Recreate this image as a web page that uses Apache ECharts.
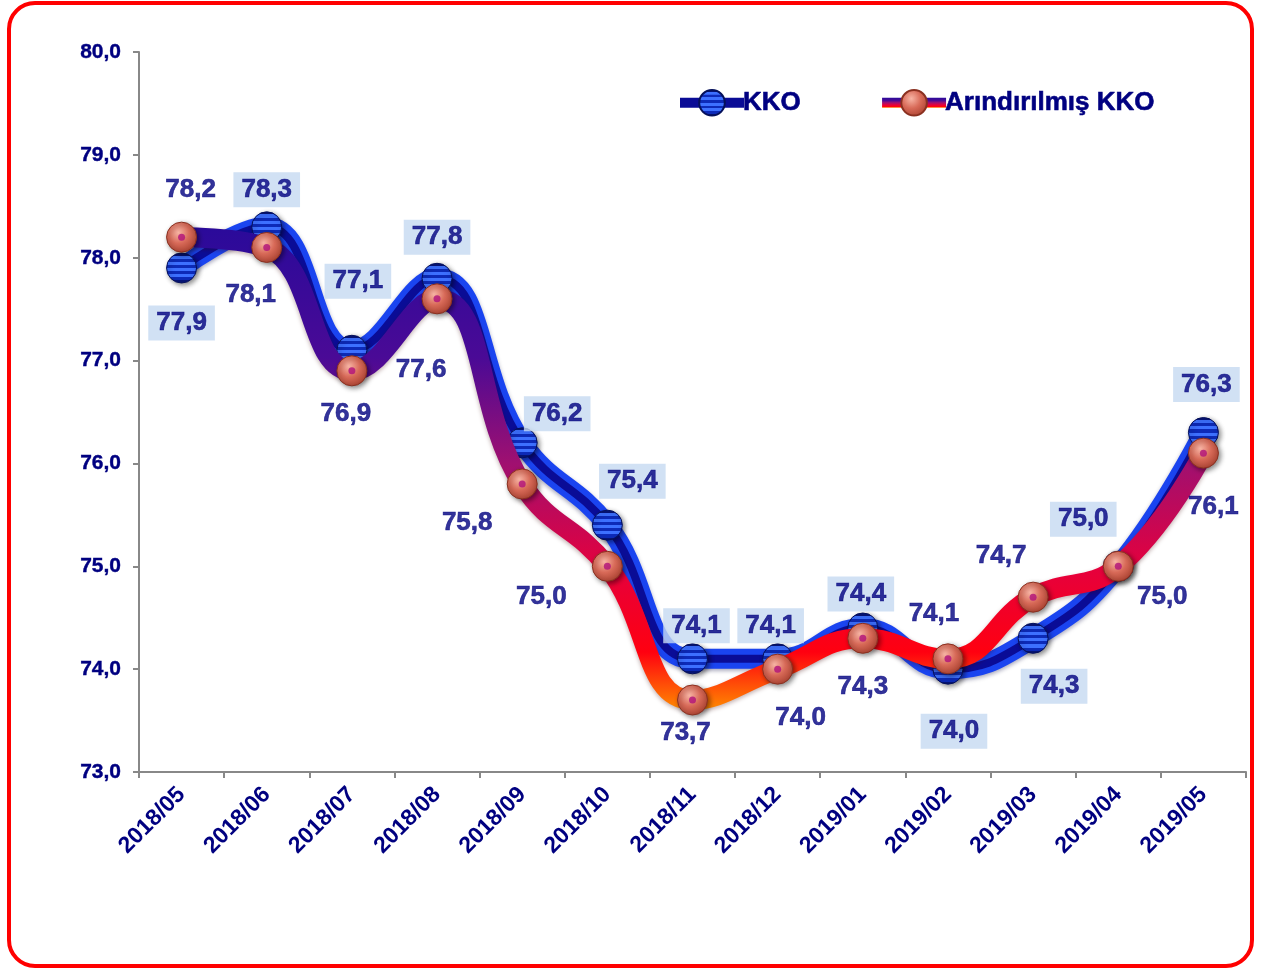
<!DOCTYPE html>
<html>
<head>
<meta charset="utf-8">
<script src="https://cdn.jsdelivr.net/npm/echarts@6/dist/echarts.min.js"></script>
<style>
html,body{margin:0;padding:0;background:#fff;}
#chart{width:1262px;height:969px;}
</style>
</head>
<body>
<div id="chart"></div>
<script>
var categories = ['2018/05','2018/06','2018/07','2018/08','2018/09','2018/10','2018/11','2018/12','2019/01','2019/02','2019/03','2019/04','2019/05'];
var kko = [77.9, 78.3, 77.1, 77.8, 76.2, 75.4, 74.1, 74.1, 74.4, 74.0, 74.3, 75.0, 76.3];
var arindirilmis = [78.2, 78.1, 76.9, 77.6, 75.8, 75.0, 73.7, 74.0, 74.3, 74.1, 74.7, 75.0, 76.1];
var seriesNames = ['KKO', 'Arındırılmış KKO'];

// label offsets (pixels) for each point
var kkoLabelOffsets = [[0,55],[0,-37],[6,-69],[0,-41],[35,-29],[25,-44],[4,-33],[-7,-33],[-2,-34],[6,62],[21,48],[-35,-47],[3,-48]];
var ariLabelOffsets = [[9,-47],[-16,47],[-6,43],[-16,71],[-55,39],[-66,31],[-7,33],[23,49],[0,49],[-14,-45],[-32,-41],[44,31],[10,54]];

function fmt(v){ return v.toFixed(1).replace('.', ','); }

var navy = '#000080';
var FONT = 'Liberation Sans, Arial, sans-serif';

var stripeStops = [];
(function(){
  var n = 10;
  for (var i = 0; i < n; i++) {
    var c = (i % 2 === 0) ? '#0d2ab8' : '#3d70ff';
    if (i === 0 || i === n-1) c = '#061478';
    stripeStops.push({offset: i/n, color: c});
    stripeStops.push({offset: (i+1)/n - 0.001, color: c});
  }
})();

var kkoSymbolColor = new echarts.graphic.LinearGradient(0,0,0,1, stripeStops);
var ariSymbolColor = new echarts.graphic.RadialGradient(0.4,0.35,0.7,[
  {offset:0, color:'#f7b4a4'},
  {offset:0.5, color:'#d86a58'},
  {offset:1, color:'#a8402f'}
]);

var ariLineColor = new echarts.graphic.LinearGradient(0,0,0,1,[
  {offset:0, color:'#2a0a9a'},
  {offset:0.27, color:'#4a0a96'},
  {offset:0.49, color:'#a01070'},
  {offset:0.71, color:'#e6003c'},
  {offset:0.88, color:'#ff0010'},
  {offset:1, color:'#ff8a00'}
]);

function mkLabels(values, offsets, bg) {
  return values.map(function(v, i){
    return {
      value: v,
      label: {
        show: true,
        position: 'inside',
        offset: offsets[i],
        formatter: fmt(v),
        color: navy,
        fontSize: 26,
        lineHeight: 27,
        fontWeight: 'bold',
        fontFamily: FONT,
        textBorderColor: navy,
        textBorderWidth: 0.6,
        backgroundColor: bg,
        padding: bg ? [4,8,4,8] : 0
      }
    };
  });
}

var chart = echarts.init(document.getElementById('chart'), null, {renderer:'canvas'});
var option = {
  backgroundColor: '#ffffff',
  animation: false,
  graphic: [{
    type: 'rect',
    shape: {x: 9, y: 3, width: 1243, height: 963, r: 26},
    style: {fill: 'none', stroke: '#ff0000', lineWidth: 4},
    z: 100
  }],
  grid: {left: 139, right: 16, top: 52, bottom: 197, containLabel: false},
  legend: {
    top: 84,
    left: 670,
    itemGap: 76,
    itemWidth: 64,
    itemHeight: 32,
    data: [seriesNames[0], seriesNames[1]],
    lineStyle: {width: 10},
    textStyle: {color: navy, fontSize: 26, fontWeight: 'bold', fontFamily: FONT, padding:[0,0,0,-6], textBorderColor: navy, textBorderWidth: 0.6}
  },
  xAxis: {
    type: 'category',
    data: categories,
    boundaryGap: true,
    axisLine: {lineStyle: {color: '#888888', width: 2}},
    axisTick: {show: true, length: 6, lineStyle: {color: '#888888', width: 2}},
    axisLabel: {
      rotate: 45, interval: 0, margin: 19,
      color: navy, fontSize: 23, fontWeight: 'bold',
      fontFamily: FONT
    }
  },
  yAxis: {
    type: 'value',
    min: 73, max: 80, interval: 1,
    axisLine: {show: true, lineStyle: {color: '#888888', width: 2}},
    axisTick: {show: true, length: 6, lineStyle: {color: '#888888', width: 2}},
    splitLine: {show: false},
    axisLabel: {
      margin: 18,
      color: navy, fontSize: 21, fontWeight: 'bold',
      fontFamily: FONT,
      textBorderColor: navy, textBorderWidth: 0.4,
      formatter: function(v){ return fmt(v); }
    }
  },
  series: [
    {
      name: 'kko_base',
      type: 'line',
      data: kko,
      smooth: 0.45,
      z: 2,
      lineStyle: {width: 20, color: '#1a44f0', shadowColor:'rgba(0,0,60,0.35)', shadowBlur:4, shadowOffsetY:2},
      symbol: 'none',
      silent: true
    },
    {
      name: seriesNames[0],
      type: 'line',
      data: kko,
      smooth: 0.45,
      z: 3,
      lineStyle: {width: 8, color: '#0a0c96'},
      symbol: 'circle',
      symbolSize: 30,
      itemStyle: {color: kkoSymbolColor, borderColor: '#05105a', borderWidth: 1, shadowColor: 'rgba(0,0,0,0.45)', shadowBlur: 5, shadowOffsetX: 2, shadowOffsetY: 2},
      silent: true
    },
    {
      name: seriesNames[1],
      type: 'line',
      data: arindirilmis,
      smooth: 0.45,
      z: 4,
      lineStyle: {width: 20, color: ariLineColor, shadowColor:'rgba(60,0,0,0.3)', shadowBlur:4, shadowOffsetY:2},
      symbol: 'circle',
      symbolSize: 30,
      itemStyle: {color: ariSymbolColor, borderColor: '#8a3020', borderWidth: 1, shadowColor: 'rgba(0,0,0,0.45)', shadowBlur: 5, shadowOffsetX: 2, shadowOffsetY: 2},
      silent: true
    },
    {
      name: 'ari_dot',
      type: 'scatter',
      data: arindirilmis,
      z: 6,
      symbol: 'circle',
      symbolSize: 7,
      itemStyle: {color: '#b0107a'},
      silent: true
    },
    {
      name: 'kko_labels',
      type: 'scatter',
      data: mkLabels(kko, kkoLabelOffsets, '#c6d9f1'),
      z: 7,
      symbolSize: 0,
      silent: true
    },
    {
      name: 'ari_labels',
      type: 'scatter',
      data: mkLabels(arindirilmis, ariLabelOffsets, null),
      z: 7,
      symbolSize: 0,
      silent: true
    }
  ]
};
chart.setOption(option);
</script>
</body>
</html>
